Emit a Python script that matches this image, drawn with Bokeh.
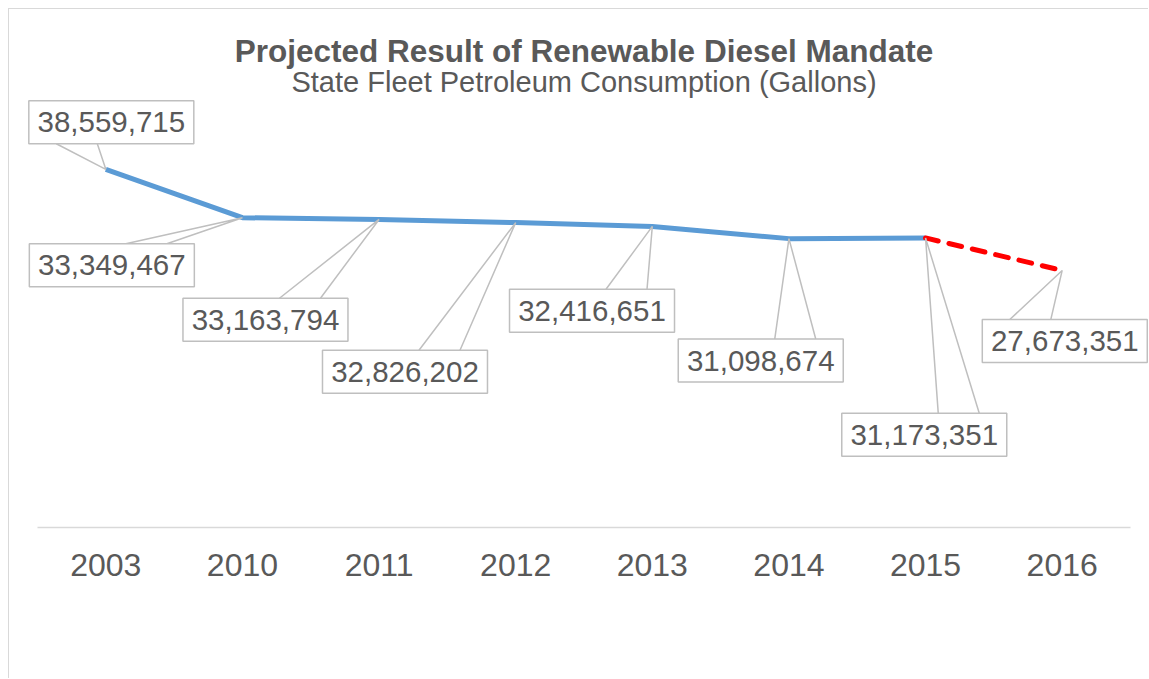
from bokeh.plotting import figure
from bokeh.models import Range1d, FixedTicker, Label
from bokeh.core.properties import value
from bokeh.embed import file_html
from bokeh.resources import INLINE

# ---------------- data ----------------
years = ["2003", "2010", "2011", "2012", "2013", "2014", "2015", "2016"]
consumption = [38559715, 33349467, 33163794, 32826202, 32416651, 31098674, 31173351, 27673351]
actual_idx = [0, 1, 2, 3, 4, 5, 6]
projected_idx = [6, 7]
title_text = "Projected Result of Renewable Diesel Mandate"
subtitle_text = "State Fleet Petroleum Consumption (Gallons)"

# ---------------- layout / style (pixels) ----------------
W, H = 1140, 670
MB = 152                      # space below the plotting area (axis labels)
PLOT_L, PLOT_R = 28, 19       # category band inset inside the frame
PLOT_T, PLOT_H = 100, 418     # value-axis area inside the frame
Y_MAX = 45_000_000
label_dx = [5.5, -130.6, -113.6, -110.7, -60.3, -28.2, -1.3, 2.6]
label_dy = [-47.1, 47.5, 100.3, 149.1, 84.4, 121.9, 196.9, 70.6]
BOX_W, BOX_H = 165, 43
WEDGE_NEAR, WEDGE_FAR = 14, 55
FONT = "Liberation Sans"
TXT = "#595959"
GRAY = "#BFBFBF"

n = len(years)
px_x = (W - PLOT_L - PLOT_R) / n
px_y = PLOT_H / Y_MAX
xs = list(range(n))

p = figure(width=W, height=H, output_backend="svg", toolbar_location=None, title=None,
           x_range=Range1d(-0.5 - PLOT_L / px_x, n - 0.5 + PLOT_R / px_x),
           y_range=Range1d(0, (PLOT_H + PLOT_T) / px_y),
           y_axis_location=None, min_border_left=0, min_border_right=0,
           min_border_top=0, min_border_bottom=MB)
p.styles = {"margin-left": "8px", "margin-top": "8px",
            "border-left": "1px solid #D9D9D9", "border-top": "1px solid #D9D9D9"}
p.outline_line_color = None
p.background_fill_color = "white"
p.border_fill_color = "white"
p.xgrid.visible = False
p.ygrid.visible = False

ax = p.xaxis[0]
ax.ticker = FixedTicker(ticks=xs)
ax.bounds = (-0.5, n - 0.5)
ax.major_label_overrides = {i: y for i, y in zip(xs, years)}
ax.axis_line_color = "#D9D9D9"
ax.axis_line_width = 1.5
ax.major_tick_line_color = None
ax.minor_tick_line_color = None
ax.major_label_text_font = FONT
ax.major_label_text_font_size = "32px"
ax.major_label_text_color = TXT
ax.major_label_standoff = 20

# series
p.line([xs[i] for i in actual_idx], [consumption[i] for i in actual_idx],
       line_color="#5B9BD5", line_width=5, line_join="round", line_cap="butt")
p.line([xs[i] for i in projected_idx], [consumption[i] for i in projected_idx],
       line_color="#FF0000", line_width=5, line_dash="13 11", line_cap="round")

# data label callouts
cxs, cys, wx, wy, texts = [], [], [], [], []
for i, v in enumerate(consumption):
    cx = xs[i] + label_dx[i] / px_x
    cy = v - label_dy[i] / px_y
    if label_dy[i] > 0:
        edge = cy + (BOX_H / 2) / px_y
    else:
        edge = cy - (BOX_H / 2) / px_y
    if label_dx[i] <= 0:
        b1, b2 = WEDGE_NEAR, WEDGE_FAR
    else:
        b1, b2 = -WEDGE_FAR, -WEDGE_NEAR
    wx.append([cx + b1 / px_x, xs[i], cx + b2 / px_x])
    wy.append([edge, v, edge])
    cxs.append(cx)
    cys.append(cy)
    texts.append(f"{v:,}")

p.multi_line(wx, wy, line_color=GRAY, line_width=1.5)
p.rect(cxs, cys, width=BOX_W, height=BOX_H, width_units="screen", height_units="screen",
       fill_color="white", line_color=GRAY, line_width=1.5)
p.text(cxs, cys, text=texts, text_font=value(FONT), text_font_size="29.5px",
       text_color=TXT, text_align="center", text_baseline="middle")

# titles (screen units measured from the frame's bottom-left)
cx_title = PLOT_L + (W - PLOT_L - PLOT_R) / 2
p.add_layout(Label(x=cx_title, y=PLOT_H + 59, x_units="screen", y_units="screen",
                   text=title_text, text_font=FONT, text_font_size="31.5px",
                   text_font_style="bold", text_color=TXT, text_align="center",
                   text_baseline="alphabetic"))
p.add_layout(Label(x=cx_title, y=PLOT_H + 27.5, x_units="screen", y_units="screen",
                   text=subtitle_text, text_font=FONT, text_font_size="29px",
                   text_color=TXT, text_align="center", text_baseline="alphabetic"))

open("out.html", "w").write(file_html(p, INLINE))
